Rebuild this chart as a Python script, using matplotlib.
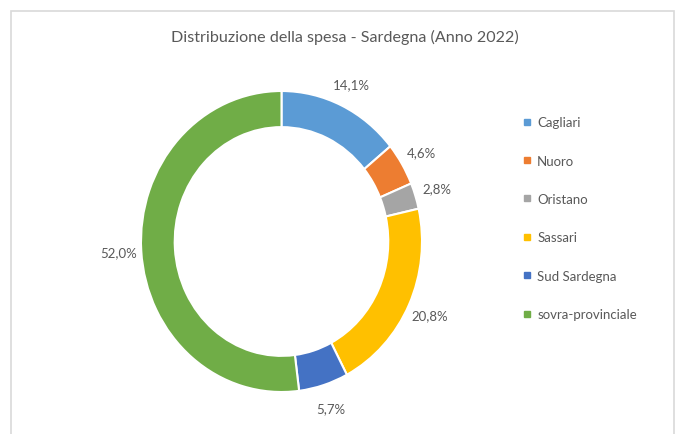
import matplotlib.pyplot as plt
from matplotlib.patches import Rectangle
from matplotlib.lines import Line2D

plt.rcParams['font.family'] = ['Lato', 'DejaVu Sans']

province = ["Cagliari", "Nuoro", "Oristano", "Sassari", "Sud Sardegna", "sovra-provinciale"]
quote = [14.1, 4.6, 2.8, 20.8, 5.7, 52.0]
colori = ["#5B9BD5", "#ED7D31", "#A5A5A5", "#FFC000", "#4472C4", "#70AD47"]
titolo = "Distribuzione della spesa - Sardegna (Anno 2022)"
grigio = "#595959"

W, H = 676, 435
fig = plt.figure(figsize=(W / 100, H / 100), dpi=100)

# chart frame
fig.patches.append(Rectangle((11 / W, -0.02), 663 / W, 1.02 - 12 / H,
                             transform=fig.transFigure, fill=False,
                             edgecolor="#D9D9D9", linewidth=1.2))

# donut is slightly stretched vertically in the original
cx, cy, rx, ry = 281.5, 242.5, 140.5, 150.5
ax = fig.add_axes([(cx - rx) / W, (H - cy - ry) / H, 2 * rx / W, 2 * ry / H])

wedges, _, autotexts = ax.pie(
    quote, colors=colori, startangle=90, counterclock=False, radius=1.0,
    wedgeprops=dict(width=0.24, edgecolor="white", linewidth=1.5),
    autopct=lambda p: f"{p:.1f}".replace(".", ","), pctdistance=1.16,
    textprops=dict(color=grigio, fontsize=9.5))
for t in autotexts:
    t.set_text(t.get_text() + "%")
ax.set_aspect("auto")
ax.set_xlim(-1, 1)
ax.set_ylim(-1, 1)
ax.axis("off")

fig.text(345 / W, 1 - 37 / H, titolo, ha="center", va="center",
         fontsize=11.6, color=grigio)

handles = [Line2D([], [], marker="s", linestyle="none", markersize=5,
                  markerfacecolor=c, markeredgecolor=c) for c in colori]
fig.legend(handles, province, loc="upper left",
           bbox_to_anchor=(518 / W, 1 - 112 / H), frameon=False,
           fontsize=9.5, labelcolor=grigio, labelspacing=2.0,
           handlelength=0.6, handletextpad=0.45, borderaxespad=0)

fig.savefig("out.png", dpi=100)
